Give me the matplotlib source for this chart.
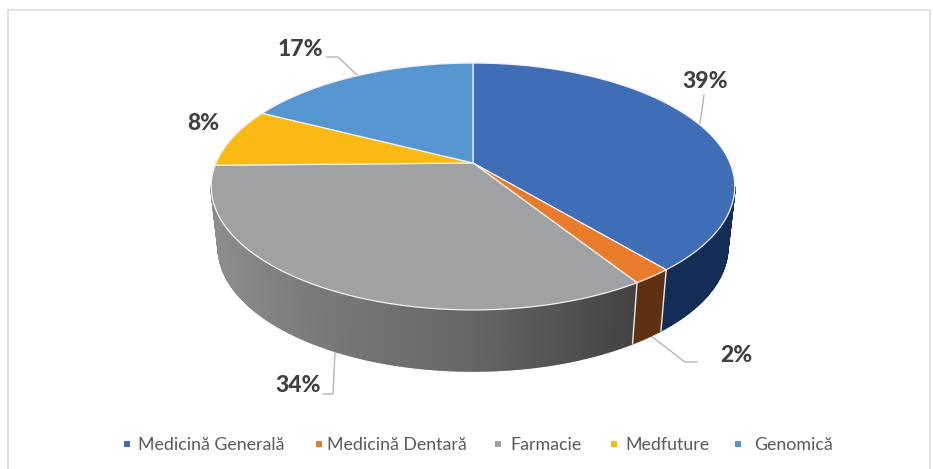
import numpy as np
import matplotlib
matplotlib.use("Agg")
import matplotlib.pyplot as plt
from matplotlib.patches import Polygon

plt.rcParams["font.family"] = ["Lato", "DejaVu Sans"]

# ── Data ──────────────────────────────────────────────────────────────────────
categories = ["Medicină Generală", "Medicină Dentară", "Farmacie", "Medfuture", "Genomică"]
shares = [38.9, 2.1, 33.7, 7.8, 17.5]  # slice sizes as measured on the picture
labels = ["39%", "2%", "34%", "8%", "17%"]

# ── Style ─────────────────────────────────────────────────────────────────────
top_colors = ["#3F6DB6", "#E97C2B", "#A0A1A2", "#FBB914", "#5595D0"]
side_colors = ["#142D57", "#5F3110", None, None, None]

# perspective of the pie, everything in image pixels
CX, CY = 473, 163
A_TOP, A_BOT = 257, 250
B, K = 119, 0.19
DEPTH = 61


def rim(theta, a, dy=0):
    # theta is clockwise from 12 o'clock, radians
    u, v = np.sin(theta), np.cos(theta)
    d = 1 + K * v
    return CX + a * u / d, CY + dy - B * v / d


def grey_side(x):
    # side wall of the grey slice gets darker to the right
    g = np.interp(x, [215, 300, 473, 640], [0x8C, 0x7C, 0x66, 0x42])
    return (g / 255, g / 255, g / 255)


fig = plt.figure(figsize=(9.33, 4.69), dpi=100)
ax = fig.add_axes([0, 0, 1, 1])
ax.set_xlim(0, 933)
ax.set_ylim(469, 0)
ax.axis("off")

# frame of the original chart area
ax.plot([8, 8, 930, 930], [469, 10, 10, 469], color="#DCDCDC", lw=1.2)

edges = np.cumsum([0] + shares) / sum(shares) * 2 * np.pi

# ── Side wall ─────────────────────────────────────────────────────────────────
# only the part below the widest point of the rim can be seen
for i in range(len(shares)):
    t0, t1 = edges[i], edges[i + 1]
    lo, hi = max(t0, np.radians(101)), min(t1, np.radians(259))
    if hi <= lo:
        continue
    steps = np.linspace(lo, hi, max(int((hi - lo) * 120), 2) + 1)
    for a, b in zip(steps[:-1], steps[1:]):
        xt, yt = rim(np.array([a, b]), A_TOP)
        xb, yb = rim(np.array([b, a]), A_BOT, DEPTH)
        col = side_colors[i] if side_colors[i] else grey_side(xt.mean())
        # wide edge so the strips overlap, otherwise seams show as stripes
        ax.add_patch(Polygon(np.c_[np.r_[xt, xb], np.r_[yt, yb]], closed=True,
                             fc=col, ec=col, lw=1.2, zorder=2))

# white seams on the wall between slices
for t in edges[1:3]:
    xt, yt = rim(t, A_TOP)
    xb, yb = rim(t, A_BOT, DEPTH)
    ax.plot([xt, xb], [yt, yb], color="#E8E8E8", lw=1.0, zorder=3)

# ── Top face ──────────────────────────────────────────────────────────────────
for i in range(len(shares)):
    th = np.linspace(edges[i], edges[i + 1], 200)
    x, y = rim(th, A_TOP)
    ax.add_patch(Polygon(np.c_[np.r_[CX, x], np.r_[CY, y]], closed=True,
                         fc=top_colors[i], ec="#F2F2F2", lw=0.9, zorder=4))

# ── Data labels and leaders ───────────────────────────────────────────────────
label_xy = [(705, 81), (736, 356), (298, 386), (203, 124), (300, 50)]
leaders = [
    [(704, 95), (700, 123)],
    [(651, 336), (685, 362), (697, 362)],
    [(335, 351), (333, 394), (323, 394)],
    None,
    [(327, 57), (338, 57), (358, 76)],
]
for txt, (lx, ly), seg in zip(labels, label_xy, leaders):
    ax.text(lx, ly, txt, ha="center", va="center", fontsize=16.5, fontweight=900,
            color="#404040", zorder=6)
    if seg:
        sx, sy = zip(*seg)
        ax.plot(sx, sy, color="#B5B5B5", lw=1.0, zorder=1 if txt != "39%" else 5)

# ── Legend ────────────────────────────────────────────────────────────────────
legend_marker_x = [127, 319, 498, 614, 738]
legend_text_x = [138, 327, 510, 625, 754]
for name, col, mx, tx in zip(categories, top_colors, legend_marker_x, legend_text_x):
    ax.scatter([mx], [444], marker="s", s=16, color=col, linewidths=0, zorder=5)
    ax.text(tx, 445, name, ha="left", va="center", fontsize=12.8, color="#595959")

fig.savefig("out.png", dpi=100)
